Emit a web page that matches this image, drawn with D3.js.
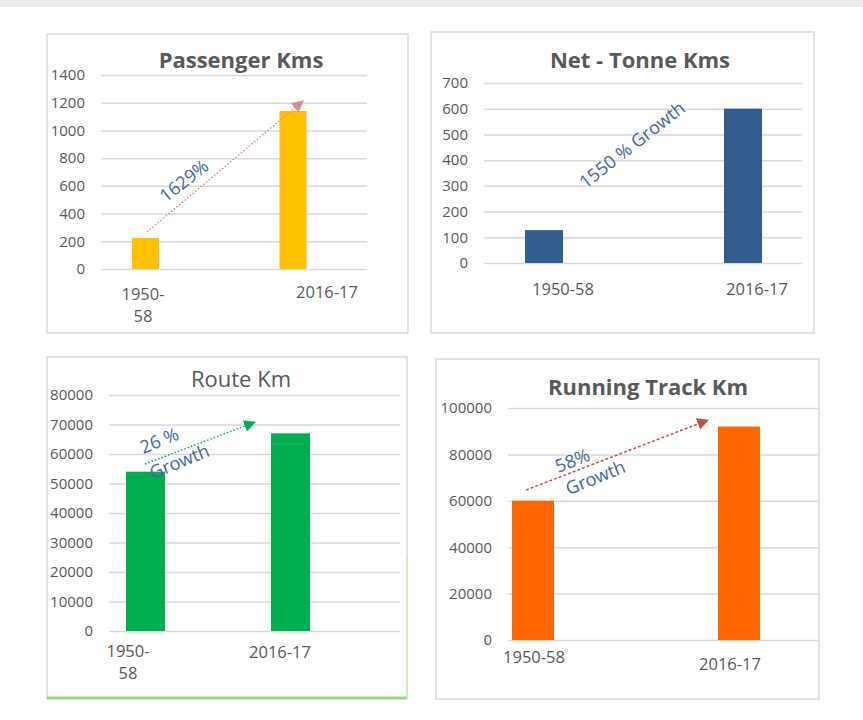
<!DOCTYPE html>
<html>
<head>
<meta charset="utf-8">
<script src="https://cdn.jsdelivr.net/npm/d3@7"></script>
<style>
  body { margin: 0; background: #fff; }
  text { font-family: "Open Sans", sans-serif; }
</style>
</head>
<body>
<div id="chart"></div>
<script>
// values
var categories = ["1950-58", "2016-17"];

var passengerKms = [224, 1140];
var tonneKms = [128, 600];
var routeKm = [54000, 67000];
var runningTrackKm = [60000, 92000];

var passengerTicks = [0, 200, 400, 600, 800, 1000, 1200, 1400];
var tonneTicks = [0, 100, 200, 300, 400, 500, 600, 700];
var routeTicks = [0, 10000, 20000, 30000, 40000, 50000, 60000, 70000, 80000];
var trackTicks = [0, 20000, 40000, 60000, 80000, 100000];

var svgWidth = 863;
var svgHeight = 720;

var svg = d3.select("#chart")
            .append("svg")
            .attr("width", svgWidth)
            .attr("height", svgHeight);

// grey strip at the top of the screenshot
svg.append("rect")
   .attr("x", 0).attr("y", 0)
   .attr("width", svgWidth).attr("height", 7)
   .attr("fill", "#ebebee");

var defs = svg.append("defs");

// one object per small chart, layout only
var panels = [
  {
    title: "Passenger Kms", bold: true, values: passengerKms, ticks: passengerTicks,
    color: "#FFC000",
    box: [47, 34, 408, 333], grid: [101, 367], yRange: [269, 75],
    barX: [145.5, 293], barW: 27,
    labelX: [143, 327], labelY: [300, 298], wrapFirst: true,
    titleX: 241, titleY: 68,
    arrow: { from: [0, 267, 1.5], to: [1, 1212, 10], color: "#d98c8f", dash: "1.5,2" },
    notes: [{ text: "1629%", x: 185, y: 182, rot: -38 }]
  },
  {
    title: "Net - Tonne Kms", bold: true, values: tonneKms, ticks: tonneTicks,
    color: "#335d8e",
    box: [431, 32, 814, 333], grid: [484, 802], yRange: [263, 83],
    barX: [544, 743], barW: 38,
    labelX: [563, 757], labelY: [295, 295], wrapFirst: false,
    titleX: 640, titleY: 68,
    arrow: null,
    notes: [{ text: "1550 % Growth", x: 633, y: 146, rot: -38 }]
  },
  {
    title: "Route Km", bold: false, values: routeKm, ticks: routeTicks,
    color: "#00B050",
    box: [47, 357, 407, 698], grid: [109, 400], yRange: [631, 395],
    barX: [145.5, 290.5], barW: 39,
    labelX: [128, 280], labelY: [657, 658], wrapFirst: true,
    titleX: 241, titleY: 387, greenEdge: true,
    arrow: { from: [0, 56600, -0.5], to: [1, 70800, -35.5], color: "#00B050", dash: "1.5,2" },
    notes: [{ text: "26 %", x: 160, y: 442, rot: -22 },
            { text: "Growth", x: 180, y: 463, rot: -22 }]
  },
  {
    title: "Running Track Km", bold: true, values: runningTrackKm, ticks: trackTicks,
    color: "#FF6600",
    box: [436, 359, 819, 699], grid: [508, 818], yRange: [640, 408],
    barX: [533, 739], barW: 42,
    labelX: [534, 730], labelY: [663, 670], wrapFirst: false,
    titleX: 648, titleY: 395,
    arrow: { from: [0, 64650, -7], to: [1, 94800, -31], color: "#c0504d", dash: "3,2" },
    notes: [{ text: "58%", x: 573, y: 462, rot: -22 },
            { text: "Growth", x: 596, y: 479, rot: -22 }]
  }
];

panels.forEach(function(p, i) {
  var g = svg.append("g");

  // frame
  g.append("rect")
   .attr("x", p.box[0]).attr("y", p.box[1])
   .attr("width", p.box[2] - p.box[0]).attr("height", p.box[3] - p.box[1])
   .attr("fill", "#fff")
   .attr("stroke", "#d9d9d9")
   .attr("stroke-width", 1.5);

  if (p.greenEdge) {
    g.append("line")
     .attr("x1", p.box[0]).attr("x2", p.box[2])
     .attr("y1", p.box[3]).attr("y2", p.box[3])
     .attr("stroke", "#9fd47f").attr("stroke-width", 3);
    g.append("line")
     .attr("x1", p.box[2]).attr("x2", p.box[2])
     .attr("y1", p.box[1] + 200).attr("y2", p.box[3])
     .attr("stroke", "#cbe8b8").attr("stroke-width", 1.5);
  }

  var yScale = d3.scaleLinear()
    .domain([0, d3.max(p.ticks)])
    .range(p.yRange);

  var xScale = d3.scalePoint()
    .domain(categories)
    .range(p.barX);

  var xLabel = d3.scalePoint()
    .domain(categories)
    .range(p.labelX);

  // gridlines + tick labels
  var leftAxis = d3.axisLeft(yScale)
    .tickValues(p.ticks)
    .tickSize(-(p.grid[1] - p.grid[0]))
    .tickPadding(16)
    .tickFormat(d3.format("d"));

  var yAxis = g.append("g")
    .attr("transform", `translate(${p.grid[0]}, 0)`)
    .call(leftAxis);

  yAxis.select(".domain").remove();
  yAxis.selectAll(".tick line")
    .attr("stroke", "#d9d9d9")
    .attr("stroke-width", 1.5);
  yAxis.selectAll(".tick text")
    .attr("fill", "#595959")
    .style("font-size", "15px")
    .style("font-family", "'Open Sans', sans-serif");

  // bars
  g.selectAll(null)
    .data(p.values)
    .enter()
    .append("rect")
    .attr("x", (d, j) => xScale(categories[j]) - p.barW / 2)
    .attr("y", d => yScale(d))
    .attr("width", p.barW)
    .attr("height", d => yScale(0) - yScale(d))
    .attr("fill", p.color);

  // category labels
  categories.forEach(function(c, j) {
    var t = g.append("text")
      .attr("x", xLabel(c))
      .attr("y", p.labelY[j])
      .attr("text-anchor", "middle")
      .attr("fill", "#595959")
      .style("font-size", "16.5px");
    if (p.wrapFirst && j === 0) {
      var parts = c.split("-");
      t.append("tspan").attr("x", xLabel(c)).text(parts[0] + "-");
      t.append("tspan").attr("x", xLabel(c)).attr("dy", 22).text(parts[1]);
    } else {
      t.text(c);
    }
  });

  // title
  g.append("text")
    .attr("x", p.titleX)
    .attr("y", p.titleY)
    .attr("text-anchor", "middle")
    .attr("fill", "#595959")
    .style("font-size", "22px")
    .style("font-weight", p.bold ? "bold" : "normal")
    .text(p.title);

  // growth arrow
  if (p.arrow) {
    var a = p.arrow;
    var id = "head" + i;
    defs.append("marker")
      .attr("id", id)
      .attr("viewBox", "0 0 10 10")
      .attr("refX", 9).attr("refY", 5)
      .attr("markerWidth", 12).attr("markerHeight", 12)
      .attr("markerUnits", "userSpaceOnUse")
      .attr("orient", "auto")
      .append("path")
      .attr("d", "M0,0L10,5L0,10Z")
      .attr("fill", a.color);

    g.append("line")
      .attr("x1", xScale(categories[a.from[0]]) + a.from[2])
      .attr("y1", yScale(a.from[1]))
      .attr("x2", xScale(categories[a.to[0]]) + a.to[2])
      .attr("y2", yScale(a.to[1]))
      .attr("stroke", a.color)
      .attr("stroke-width", 1.5)
      .attr("stroke-dasharray", a.dash)
      .attr("marker-end", `url(#${id})`);
  }

  // growth text
  p.notes.forEach(function(n) {
    g.append("text")
      .attr("transform", `translate(${n.x}, ${n.y}) rotate(${n.rot})`)
      .attr("text-anchor", "middle")
      .attr("dominant-baseline", "middle")
      .attr("fill", "#44679b")
      .style("font-size", "18px")
      .text(n.text);
  });
});
</script>
</body>
</html>
